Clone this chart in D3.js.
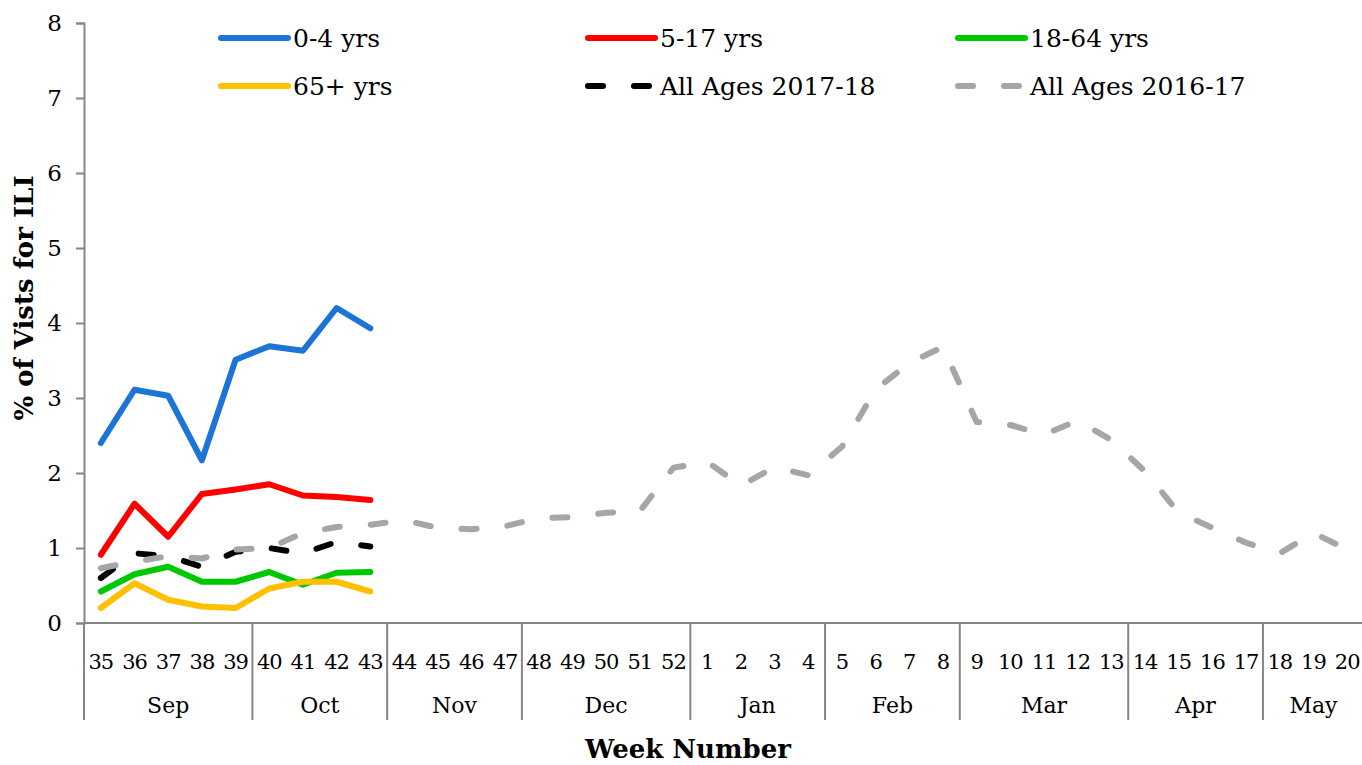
<!DOCTYPE html>
<meta charset="utf-8">
<style>

body {
  margin: 0;
  background: #fff;
}

text {
  font-family: "DejaVu Serif", "Liberation Serif", serif;
  fill: #000;
}

.axis line, .axis path {
  stroke: #868686;
  stroke-width: 2px;
}

.series {
  fill: none;
  stroke-width: 6px;
  stroke-linecap: round;
  stroke-linejoin: round;
}

</style>
<svg width="1362" height="765" id="chart"></svg>
<script src="https://d3js.org/d3.v7.min.js"></script>
<script>

// week numbers along the x axis (season Sep 2017 - May 2018)
var weeks = [35, 36, 37, 38, 39, 40, 41, 42, 43, 44, 45, 46, 47, 48, 49, 50, 51, 52,
             1, 2, 3, 4, 5, 6, 7, 8, 9, 10, 11, 12, 13, 14, 15, 16, 17, 18, 19, 20];

var monthNames = ["Sep", "Oct", "Nov", "Dec", "Jan", "Feb", "Mar", "Apr", "May"];
var monthWeeks = [5, 4, 4, 5, 4, 4, 5, 4, 3];

var yTicks = [0, 1, 2, 3, 4, 5, 6, 7, 8];

// % of visits for ILI
var ages0to4   = [2.40, 3.11, 3.03, 2.17, 3.51, 3.69, 3.63, 4.20, 3.93];
var ages5to17  = [0.91, 1.59, 1.15, 1.72, 1.78, 1.85, 1.70, 1.68, 1.64];
var ages18to64 = [0.42, 0.65, 0.75, 0.55, 0.55, 0.68, 0.51, 0.67, 0.68];
var ages65plus = [0.20, 0.53, 0.31, 0.22, 0.20, 0.46, 0.55, 0.55, 0.42];
var allAges1718 = [0.60, 0.93, 0.89, 0.75, 0.95, 1.00, 0.93, 1.08, 1.02];
var allAges1617 = [0.73, 0.82, 0.89, 0.86, 0.98, 1.00, 1.20, 1.28, 1.31, 1.37,
                   1.27, 1.25, 1.29, 1.40, 1.41, 1.47, 1.49, 2.07, 2.15, 1.83,
                   2.08, 1.97, 2.35, 3.11, 3.47, 3.68, 2.68, 2.64, 2.51, 2.70,
                   2.44, 2.02, 1.47, 1.27, 1.07, 0.93, 1.20, 0.98];

var series = [
  {name: "0-4 yrs", values: ages0to4, color: "#1c75d6", dash: null},
  {name: "5-17 yrs", values: ages5to17, color: "#ff0000", dash: null},
  {name: "18-64 yrs", values: ages18to64, color: "#00c800", dash: null},
  {name: "65+ yrs", values: ages65plus, color: "#ffc000", dash: null},
  {name: "All Ages 2017-18", values: allAges1718, color: "#000000", dash: "15,31"},
  {name: "All Ages 2016-17", values: allAges1617, color: "#a6a6a6", dash: "15,31"}
];

var svg = d3.select("svg");

var x = d3.scaleBand()
    .domain(d3.range(weeks.length))
    .range([84, 1364])
    .padding(0);

var y = d3.scaleLinear()
    .domain([0, 8])
    .range([623, 23]);

// y axis
var yAxis = svg.append("g")
    .attr("class", "axis")
    .attr("transform", "translate(84,0)")
    .call(d3.axisLeft(y).tickValues(yTicks).tickSize(8).tickPadding(14).tickFormat(d3.format("d")));

yAxis.selectAll("text")
    .style("font-family", "'DejaVu Serif', serif")
    .style("font-size", "23px")
    .attr("fill", "#000");

// x axis base line
svg.append("line")
    .attr("x1", 84).attr("x2", 1364)
    .attr("y1", y(0)).attr("y2", y(0))
    .attr("stroke", "#868686")
    .attr("stroke-width", 2);

// week labels
svg.append("g").selectAll("text")
    .data(weeks)
    .enter().append("text")
      .attr("x", function(d, i) { return x(i) + x.bandwidth() / 2; })
      .attr("y", 669)
      .attr("text-anchor", "middle")
      .style("font-size", "21px")
      .style("letter-spacing", "-1px")
      .text(function(d) { return d; });

// month groups with separators
var start = 0;
var monthPos = monthNames.map(function(m, i) {
  var s = start;
  start += monthWeeks[i];
  return {name: m, s: s, e: start};
});

svg.append("g").selectAll("line")
    .data([0].concat(monthPos.map(function(d) { return d.e; })))
    .enter().append("line")
      .attr("x1", function(d) { return d < weeks.length ? x(d) : 1364; })
      .attr("x2", function(d) { return d < weeks.length ? x(d) : 1364; })
      .attr("y1", y(0))
      .attr("y2", 720)
      .attr("stroke", "#868686")
      .attr("stroke-width", 2);

svg.append("g").selectAll("text")
    .data(monthPos)
    .enter().append("text")
      .attr("x", function(d) {
        var right = d.e < weeks.length ? x(d.e) : 1364;
        return (x(d.s) + right) / 2;
      })
      .attr("y", 713)
      .attr("text-anchor", "middle")
      .style("font-size", "22px")
      .text(function(d) { return d.name; });

// axis titles
svg.append("text")
    .attr("x", 688)
    .attr("y", 758)
    .attr("text-anchor", "middle")
    .style("font-size", "26px")
    .style("font-weight", "bold")
    .text("Week Number");

svg.append("text")
    .attr("transform", "translate(33,298) rotate(-90)")
    .attr("text-anchor", "middle")
    .style("font-size", "26px")
    .style("font-weight", "bold")
    .text("% of Vists for ILI");

// lines
var line = d3.line()
    .x(function(d, i) { return x(i) + x.bandwidth() / 2; })
    .y(function(d) { return y(d); });

svg.append("g").selectAll("path")
    .data(series)
    .enter().append("path")
      .attr("class", "series")
      .attr("d", function(d) { return line(d.values); })
      .attr("stroke", function(d) { return d.color; })
      .attr("stroke-dasharray", function(d) { return d.dash; });

// legend
var legendX = [218, 585, 955];
var legendY = [38, 86];

var legend = svg.append("g").selectAll("g")
    .data(series)
    .enter().append("g")
      .attr("transform", function(d, i) {
        return "translate(" + legendX[i % 3] + "," + legendY[Math.floor(i / 3)] + ")";
      });

legend.append("line")
    .attr("class", "series")
    .attr("x1", 3).attr("x2", 70)
    .attr("y1", 0).attr("y2", 0)
    .attr("stroke", function(d) { return d.color; })
    .attr("stroke-dasharray", function(d) { return d.dash; });

legend.append("text")
    .attr("x", 75)
    .attr("y", 9)
    .style("font-size", "25px")
    .text(function(d) { return d.name; });

</script>
